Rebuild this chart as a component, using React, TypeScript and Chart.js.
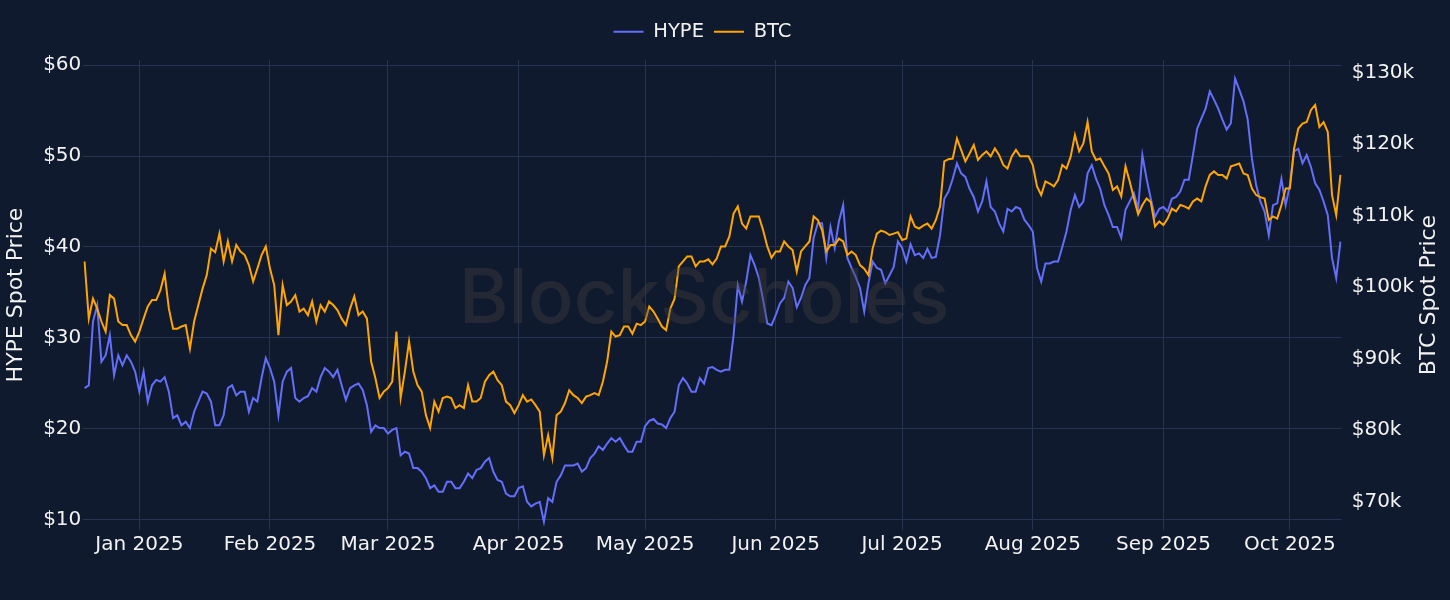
import { useEffect, useRef } from 'react';
import { Chart, registerables } from 'chart.js';

Chart.register(...registerables);

// x values are days counted from 1 Jan 2025, one value per day starting at firstDay
const firstDay = -13;

const hypePrice = [
  24.5, 24.8, 31.8, 33.6, 27.4, 28.1, 30.3, 25.9, 28.1, 27.0, 28.1, 27.4, 26.3,
  24.1, 26.3, 23.0, 24.8, 25.4, 25.2, 25.7, 24.1, 21.2, 21.5, 20.4, 20.8, 20.1, 21.9, 23.0,
  24.1, 23.9, 23.0, 20.4, 20.4, 21.5, 24.5, 24.8, 23.7, 24.1, 24.1, 21.9, 23.4, 23.0,
  25.6, 27.8, 26.7, 25.2, 21.5, 25.2, 26.3, 26.7, 23.4, 23.0, 23.4, 23.6, 24.5, 24.1,
  25.7, 26.7, 26.3, 25.7, 26.5, 24.8, 23.2, 24.5, 24.8, 25.0, 24.3, 22.6, 19.7, 20.4,
  20.1, 20.1, 19.5, 19.9, 20.1, 17.1, 17.5, 17.3, 15.7, 15.7, 15.3, 14.6, 13.5, 13.8,
  13.1, 13.1, 14.2, 14.2, 13.5, 13.5, 14.2, 15.1, 14.6, 15.5, 15.7, 16.4, 16.8, 15.3,
  14.4, 14.2, 12.9, 12.6, 12.6, 13.5, 13.7, 12.0, 11.5, 11.8, 12.0, 9.8, 12.4, 12.0,
  14.2, 14.9, 16.0, 16.0, 16.0, 16.2, 15.3, 15.7, 16.8, 17.3, 18.1, 17.7, 18.4, 19.0,
  18.6, 19.0, 18.2, 17.5, 17.5, 18.6, 18.6, 20.3, 20.9, 21.1, 20.6, 20.5, 20.1, 21.2,
  21.9, 24.8, 25.6, 25.0, 24.1, 24.1, 25.6, 25.0, 26.7, 26.8, 26.5, 26.3, 26.5, 26.5,
  30.3, 35.8, 34.0, 36.2, 39.1, 38.0, 36.6, 34.2, 31.6, 31.4, 32.5, 33.8, 34.4, 36.2,
  35.5, 33.4, 34.4, 35.8, 36.6, 41.0, 42.6, 42.6, 38.8, 42.2, 39.9, 42.8, 44.6, 38.8,
  37.7, 36.7, 35.5, 32.9, 36.0, 38.4, 37.7, 37.5, 36.0, 36.9, 37.8, 40.6, 39.9, 38.4,
  40.3, 39.1, 39.3, 38.8, 39.8, 38.8, 38.9, 41.3, 45.3, 46.1, 47.5, 49.2, 48.1, 47.7,
  46.4, 45.5, 43.9, 45.0, 47.2, 44.4, 43.9, 42.6, 41.7, 44.2, 43.9, 44.4, 44.2, 43.0,
  42.4, 41.7, 37.7, 36.2, 38.2, 38.2, 38.4, 38.4, 40.0, 41.7, 44.1, 45.7, 44.4, 45.0,
  48.1, 49.0, 47.5, 46.4, 44.6, 43.5, 42.2, 42.2, 41.0, 44.1, 45.0, 45.9, 44.2, 50.1,
  47.5, 45.3, 43.3, 44.2, 44.4, 43.9, 45.3, 45.5, 46.1, 47.4, 47.4, 50.1, 53.0, 54.1,
  55.2, 57.1, 56.2, 55.2, 54.0, 52.9, 53.6, 58.5, 57.3, 56.0, 54.0, 49.7, 46.8, 45.0,
  43.9, 41.3, 44.6, 44.8, 47.5, 44.6, 46.8, 50.5, 50.8, 49.2, 50.1, 48.8, 47.0, 46.3,
  45.0, 43.5, 38.8, 36.6, 40.6,
];

// BTC in thousands of USD
const btcPrice = [
  103.6, 95.6, 98.4, 97.0, 95.2, 93.8, 98.9, 98.4, 95.2, 94.7, 94.7, 93.3, 92.4,
  93.8, 95.6, 97.3, 98.2, 98.2, 99.6, 101.9, 97.0, 94.2, 94.2, 94.5, 94.7, 91.4, 95.2,
  97.5, 99.8, 101.7, 105.4, 104.9, 107.5, 103.6, 106.4, 103.6, 105.9, 105.0, 104.5,
  103.1, 100.8, 102.6, 104.5, 105.7, 102.6, 100.3, 93.3, 100.3, 97.5, 98.0, 98.9, 96.6,
  97.0, 96.1, 98.0, 95.2, 97.5, 96.6, 98.0, 97.5, 96.8, 95.6, 94.7, 97.0, 98.7, 96.1,
  96.6, 95.6, 89.6, 87.3, 84.5, 85.4, 85.9, 86.8, 93.8, 84.5, 88.2, 92.4, 88.2, 86.3,
  85.4, 82.1, 80.3, 84.0, 82.6, 84.5, 84.7, 84.5, 83.1, 83.5, 83.1, 86.3, 84.0, 84.0,
  84.5, 86.8, 87.7, 88.2, 87.0, 86.3, 84.0, 83.5, 82.4, 83.5, 84.9, 84.0, 84.3, 83.5,
  82.6, 76.5, 79.3, 76.1, 82.1, 82.6, 83.8, 85.6, 84.9, 84.5, 83.8, 84.7, 84.9, 85.2,
  84.9, 86.8, 89.6, 93.8, 93.1, 93.3, 94.5, 94.5, 93.5, 94.9, 94.7, 95.2, 97.3, 96.6,
  95.6, 94.5, 94.0, 97.0, 98.4, 102.9, 103.6, 104.3, 104.3, 102.9, 103.6, 103.6, 103.9,
  103.2, 104.0, 105.7, 105.7, 107.1, 110.3, 111.3, 108.9, 108.2, 109.9, 109.9, 109.9,
  108.0, 105.7, 104.1, 105.0, 105.0, 106.4, 105.7, 105.2, 102.2, 105.0, 105.7, 106.4,
  109.9, 109.4, 108.0, 105.0, 105.9, 105.9, 106.8, 106.4, 104.5, 105.0, 104.5, 103.1,
  102.6, 101.7, 105.4, 107.5, 107.9, 107.7, 107.3, 107.5, 107.7, 106.6, 106.8, 109.9,
  108.5, 108.2, 108.6, 108.9, 108.2, 109.4, 111.3, 117.6, 117.9, 118.0, 120.8, 119.2,
  117.6, 118.7, 119.9, 117.8, 118.5, 119.0, 118.3, 119.4, 118.5, 117.1, 116.6, 118.3,
  119.2, 118.3, 118.3, 118.3, 117.1, 114.1, 112.9, 114.8, 114.5, 114.1, 115.0, 117.1,
  116.6, 118.3, 121.3, 119.0, 120.1, 123.1, 119.0, 117.8, 118.0, 116.9, 115.9, 113.6,
  114.1, 112.7, 116.9, 114.8, 112.4, 110.2, 111.5, 112.4, 111.9, 108.5, 109.2, 108.7,
  109.6, 111.0, 110.6, 111.5, 111.3, 111.0, 112.0, 112.4, 112.0, 114.1, 115.7, 116.2,
  115.7, 115.7, 115.2, 116.9, 117.1, 117.3, 115.9, 115.7, 113.8, 112.9, 112.6, 112.4,
  109.4, 109.9, 109.6, 111.5, 113.8, 113.8, 119.4, 122.2, 122.9, 123.1, 124.8, 125.5,
  122.4, 123.1, 121.7, 112.9, 110.1, 115.7,
];

const monthStarts = [0, 31, 59, 90, 120, 151, 181, 212, 243, 273];
const monthLabels = [
  'Jan 2025', 'Feb 2025', 'Mar 2025', 'Apr 2025', 'May 2025',
  'Jun 2025', 'Jul 2025', 'Aug 2025', 'Sep 2025', 'Oct 2025',
];
const hypeTicks = [10, 20, 30, 40, 50, 60];
const btcTicks = [70, 80, 90, 100, 110, 120, 130];

const BG = '#101a2e';
const GRID = '#26344f';
const TEXT = '#f2f2f2';
const FONT = 'DejaVu Sans';

const background = {
  id: 'background',
  beforeDraw(chart: Chart) {
    const { ctx, width, height } = chart;
    ctx.save();
    ctx.fillStyle = BG;
    ctx.fillRect(0, 0, width, height);
    ctx.restore();
  },
};

// watermark sits over the lines and dims them a little
const watermark = {
  id: 'watermark',
  afterDatasetsDraw(chart: Chart) {
    const { ctx } = chart;
    ctx.save();
    ctx.font = '500 76px Inter';
    ctx.fillStyle = 'rgba(64, 62, 62, 0.4)';
    ctx.textAlign = 'center';
    ctx.textBaseline = 'alphabetic';
    ctx.fillText('BlockScholes', 704, 323);
    ctx.restore();
  },
};

// right axis title, read bottom to top like the left one
const rightTitle = {
  id: 'rightTitle',
  afterDraw(chart: Chart) {
    const { ctx, chartArea } = chart;
    ctx.save();
    ctx.translate(chart.width - 21, (chartArea.top + chartArea.bottom) / 2);
    ctx.rotate(-Math.PI / 2);
    ctx.font = `22px "${FONT}"`;
    ctx.fillStyle = TEXT;
    ctx.textAlign = 'center';
    ctx.textBaseline = 'middle';
    ctx.fillText('BTC Spot Price', 0, 0);
    ctx.restore();
  },
};

// fixed legend height, and legend centred over the plot area rather than the canvas
const legendLayout = {
  id: 'legendLayout',
  beforeInit(chart: any) {
    const fit = chart.legend.fit;
    chart.legend.fit = function () {
      fit.call(this);
      this.height = 48;
    };
  },
  afterLayout(chart: any) {
    const { legend, chartArea } = chart;
    legend.left = chartArea.left - 10;
    legend.right = chartArea.right - 10;
  },
};

export default function App() {
  const canvasRef = useRef<HTMLCanvasElement>(null);

  useEffect(() => {
    document.body.style.margin = '0';
    if (!canvasRef.current) return;

    const days = hypePrice.map((_, i) => firstDay + i);

    const chart = new Chart(canvasRef.current, {
      type: 'line',
      data: {
        datasets: [
          {
            label: 'HYPE',
            data: days.map((d, i) => ({ x: d, y: hypePrice[i] })),
            borderColor: '#636efa',
            backgroundColor: '#636efa',
            borderWidth: 2,
            pointRadius: 0,
            yAxisID: 'yHype',
            order: 1,
          },
          {
            label: 'BTC',
            data: days.map((d, i) => ({ x: d, y: btcPrice[i] })),
            borderColor: '#ffa500',
            backgroundColor: '#ffa500',
            borderWidth: 2,
            pointRadius: 0,
            yAxisID: 'yBtc',
            order: 0,
          },
        ],
      },
      options: {
        animation: false,
        responsive: true,
        maintainAspectRatio: false,
        layout: { padding: { top: 12, left: 0, right: 0, bottom: 0 } },
        plugins: {
          legend: {
            position: 'top',
            align: 'center',
            labels: {
              color: TEXT,
              font: { family: FONT, size: 19.5 },
              boxWidth: 30,
              boxHeight: 2,
              padding: 10,
              generateLabels: (c: Chart) =>
                Chart.defaults.plugins.legend.labels
                  .generateLabels(c)
                  .map((item) => ({ ...item, lineWidth: 0 })),
              sort: (a, b) => (a.datasetIndex ?? 0) - (b.datasetIndex ?? 0),
            },
          },
          tooltip: { enabled: false },
        },
        scales: {
          x: {
            type: 'linear',
            min: -13.3,
            max: 285.3,
            afterBuildTicks: (s) => {
              s.ticks = monthStarts.map((value) => ({ value }));
            },
            afterFit: (s) => {
              s.height = 70;
            },
            ticks: {
              autoSkip: false,
              maxRotation: 0,
              padding: 3,
              color: TEXT,
              font: { family: FONT, size: 20 },
              callback: (v) => monthLabels[monthStarts.indexOf(Number(v))] ?? '',
            },
            grid: { color: GRID, drawTicks: false },
            border: { display: false },
          },
          yHype: {
            type: 'linear',
            position: 'left',
            min: 8.9,
            max: 60.55,
            afterBuildTicks: (s) => {
              s.ticks = hypeTicks.map((value) => ({ value }));
            },
            afterFit: (s) => {
              s.width = 83.3;
            },
            ticks: {
              padding: 2,
              color: TEXT,
              font: { family: FONT, size: 20 },
              callback: (v) => '$' + v,
            },
            title: {
              display: true,
              text: 'HYPE Spot Price',
              color: TEXT,
              font: { family: FONT, size: 22 },
              padding: { top: 3, bottom: 0 },
            },
            grid: { color: GRID, drawTicks: false },
            border: { display: false },
          },
          yBtc: {
            type: 'linear',
            position: 'right',
            min: 66.04,
            max: 131.78,
            afterBuildTicks: (s) => {
              s.ticks = btcTicks.map((value) => ({ value }));
            },
            afterFit: (s) => {
              s.width = 108.3;
            },
            ticks: {
              padding: 2,
              color: TEXT,
              font: { family: FONT, size: 20 },
              callback: (v) => '$' + v + 'k',
            },
            grid: { display: false },
            border: { display: false },
          },
        },
      },
      plugins: [background, watermark, rightTitle, legendLayout],
    });

    return () => chart.destroy();
  }, []);

  return (
    <div style={{ width: 1450, height: 600, background: BG }}>
      <canvas ref={canvasRef}></canvas>
    </div>
  );
}
